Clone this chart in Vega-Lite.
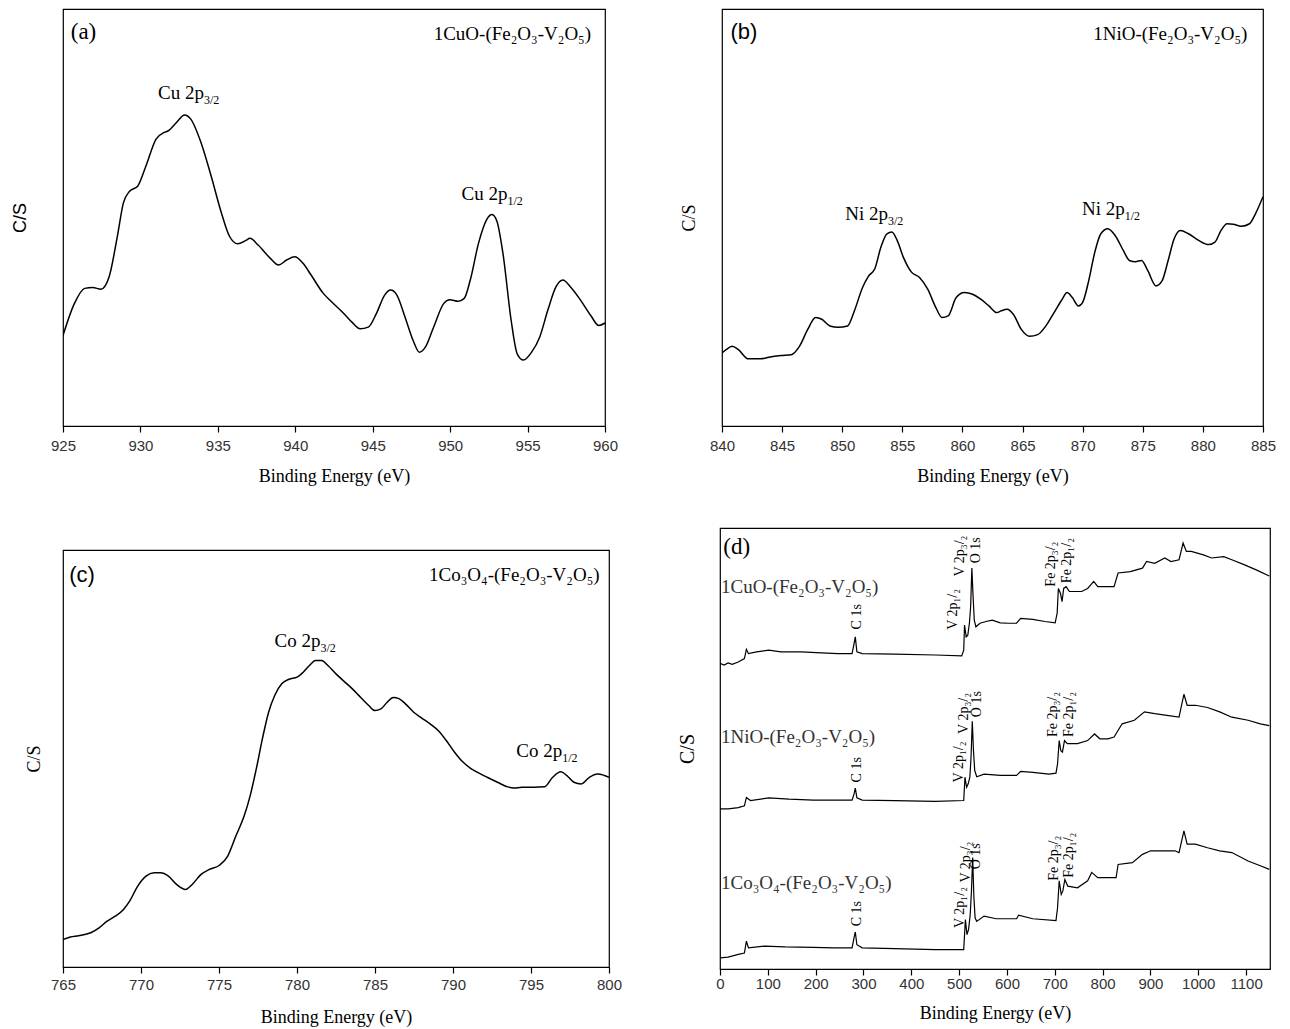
{
"$schema": "https://vega.github.io/schema/vega-lite/v6.json",
"background": "white",
"padding": {"left": 10, "top": 8, "right": 5, "bottom": 5},
"autosize": {"type": "pad"},
"datasets": {
"a": [{"x":925.00,"y":21.7},{"x":925.74,"y":29.4},{"x":926.40,"y":33.0},{"x":926.92,"y":33.2},{"x":927.45,"y":32.8},{"x":927.98,"y":35.8},{"x":928.51,"y":45.5},{"x":928.90,"y":53.5},{"x":929.30,"y":56.3},{"x":929.82,"y":57.5},{"x":930.35,"y":62.3},{"x":931.01,"y":68.8},{"x":931.54,"y":70.4},{"x":931.80,"y":70.8},{"x":932.33,"y":72.8},{"x":932.85,"y":74.6},{"x":933.25,"y":73.6},{"x":933.91,"y":68.0},{"x":934.57,"y":59.9},{"x":935.23,"y":51.1},{"x":935.75,"y":45.5},{"x":936.28,"y":43.7},{"x":936.81,"y":44.5},{"x":937.07,"y":45.0},{"x":937.60,"y":43.4},{"x":938.39,"y":40.2},{"x":938.92,"y":38.6},{"x":939.44,"y":39.8},{"x":939.97,"y":40.6},{"x":940.50,"y":39.0},{"x":941.02,"y":36.2},{"x":941.81,"y":31.8},{"x":942.34,"y":29.8},{"x":943.13,"y":27.0},{"x":943.66,"y":24.9},{"x":944.19,"y":23.3},{"x":944.71,"y":23.7},{"x":945.24,"y":27.0},{"x":945.77,"y":31.4},{"x":946.16,"y":32.6},{"x":946.56,"y":31.4},{"x":947.09,"y":26.1},{"x":947.61,"y":20.5},{"x":948.01,"y":17.7},{"x":948.40,"y":18.9},{"x":948.93,"y":23.7},{"x":949.59,"y":29.4},{"x":949.98,"y":30.3},{"x":950.51,"y":29.9},{"x":950.91,"y":30.6},{"x":951.30,"y":35.0},{"x":951.83,"y":43.8},{"x":952.36,"y":49.5},{"x":952.70,"y":50.7},{"x":953.02,"y":49.1},{"x":953.41,"y":41.4},{"x":953.94,"y":25.3},{"x":954.33,"y":17.3},{"x":954.73,"y":15.8},{"x":955.26,"y":17.7},{"x":955.78,"y":21.3},{"x":956.31,"y":27.8},{"x":956.84,"y":33.4},{"x":957.28,"y":35.0},{"x":957.76,"y":33.4},{"x":958.42,"y":30.2},{"x":959.08,"y":26.5},{"x":959.60,"y":24.1},{"x":960.00,"y":24.7}],
"b": [{"x":840.00,"y":17.5},{"x":840.34,"y":18.3},{"x":840.85,"y":19.1},{"x":841.36,"y":18.3},{"x":842.20,"y":16.1},{"x":843.22,"y":16.1},{"x":843.90,"y":16.5},{"x":844.91,"y":16.9},{"x":845.76,"y":17.1},{"x":846.44,"y":19.1},{"x":847.12,"y":23.1},{"x":847.79,"y":26.0},{"x":848.30,"y":25.6},{"x":848.98,"y":24.0},{"x":849.66,"y":23.7},{"x":850.44,"y":24.0},{"x":851.01,"y":27.6},{"x":851.69,"y":33.2},{"x":852.20,"y":36.0},{"x":852.71,"y":37.7},{"x":853.22,"y":42.9},{"x":853.72,"y":46.1},{"x":854.13,"y":46.5},{"x":854.57,"y":44.5},{"x":855.08,"y":40.5},{"x":855.76,"y":36.9},{"x":856.43,"y":35.6},{"x":857.11,"y":32.8},{"x":857.79,"y":28.4},{"x":858.30,"y":26.0},{"x":858.81,"y":26.4},{"x":859.48,"y":30.8},{"x":860.16,"y":32.0},{"x":860.84,"y":31.6},{"x":861.52,"y":30.4},{"x":862.20,"y":28.8},{"x":862.87,"y":27.2},{"x":863.21,"y":27.6},{"x":863.72,"y":28.0},{"x":864.23,"y":26.8},{"x":864.91,"y":23.1},{"x":865.58,"y":21.5},{"x":866.26,"y":21.9},{"x":866.94,"y":24.0},{"x":867.62,"y":27.2},{"x":868.30,"y":30.4},{"x":868.70,"y":32.0},{"x":869.14,"y":30.8},{"x":869.65,"y":28.8},{"x":869.99,"y":29.6},{"x":870.50,"y":34.8},{"x":871.01,"y":41.7},{"x":871.51,"y":46.1},{"x":872.09,"y":47.3},{"x":872.70,"y":45.7},{"x":873.38,"y":42.1},{"x":873.89,"y":39.7},{"x":874.39,"y":39.4},{"x":874.90,"y":39.7},{"x":875.41,"y":37.3},{"x":876.09,"y":33.6},{"x":876.60,"y":34.8},{"x":877.11,"y":39.7},{"x":877.61,"y":44.9},{"x":878.12,"y":46.9},{"x":878.80,"y":46.1},{"x":879.65,"y":44.5},{"x":880.49,"y":43.5},{"x":881.00,"y":44.1},{"x":881.51,"y":46.9},{"x":882.01,"y":48.5},{"x":882.52,"y":48.4},{"x":883.20,"y":47.9},{"x":883.88,"y":48.5},{"x":884.39,"y":51.0},{"x":885.00,"y":55.0}],
"c": [{"x":765.00,"y":6.6},{"x":765.47,"y":7.2},{"x":766.00,"y":7.5},{"x":766.78,"y":8.2},{"x":767.31,"y":9.4},{"x":767.83,"y":11.0},{"x":768.35,"y":12.2},{"x":768.88,"y":13.8},{"x":769.27,"y":15.8},{"x":769.79,"y":19.4},{"x":770.32,"y":21.8},{"x":770.84,"y":22.6},{"x":771.24,"y":22.6},{"x":771.76,"y":21.8},{"x":772.28,"y":19.8},{"x":772.86,"y":18.6},{"x":773.28,"y":19.8},{"x":773.85,"y":22.2},{"x":774.38,"y":23.4},{"x":775.03,"y":24.4},{"x":775.56,"y":26.6},{"x":776.08,"y":31.4},{"x":776.61,"y":36.2},{"x":777.00,"y":41.1},{"x":777.39,"y":47.5},{"x":777.78,"y":54.7},{"x":778.18,"y":61.1},{"x":778.57,"y":65.1},{"x":779.02,"y":67.9},{"x":779.49,"y":69.0},{"x":780.01,"y":69.5},{"x":780.40,"y":70.7},{"x":780.80,"y":72.3},{"x":781.19,"y":73.5},{"x":781.58,"y":73.5},{"x":781.98,"y":72.3},{"x":782.50,"y":70.3},{"x":783.02,"y":68.5},{"x":783.55,"y":66.7},{"x":784.07,"y":64.7},{"x":784.60,"y":62.7},{"x":784.99,"y":61.5},{"x":785.38,"y":61.9},{"x":785.78,"y":63.5},{"x":786.17,"y":64.6},{"x":786.56,"y":64.3},{"x":786.95,"y":63.1},{"x":787.48,"y":61.1},{"x":788.00,"y":59.7},{"x":788.53,"y":58.3},{"x":789.05,"y":56.7},{"x":789.57,"y":54.3},{"x":790.10,"y":51.5},{"x":790.62,"y":49.2},{"x":791.15,"y":47.6},{"x":791.67,"y":46.5},{"x":792.19,"y":45.5},{"x":792.85,"y":44.3},{"x":793.50,"y":43.2},{"x":793.90,"y":42.9},{"x":794.42,"y":43.1},{"x":795.21,"y":43.1},{"x":795.86,"y":43.2},{"x":796.39,"y":45.5},{"x":796.91,"y":46.8},{"x":797.30,"y":45.9},{"x":797.75,"y":44.3},{"x":798.22,"y":43.9},{"x":798.74,"y":45.5},{"x":799.27,"y":46.3},{"x":799.66,"y":46.0},{"x":800.00,"y":45.5}],
"d": [
{"s":"CuO","x":0,"y":69.3},{"s":"CuO","x":8.5,"y":68.9},{"s":"CuO","x":17.0,"y":69.4},{"s":"CuO","x":25.5,"y":69.1},{"s":"CuO","x":38.2,"y":69.6},{"s":"CuO","x":51.0,"y":70.4},{"s":"CuO","x":55.2,"y":72.5},{"s":"CuO","x":59.5,"y":71.5},{"s":"CuO","x":76.4,"y":71.9},{"s":"CuO","x":101.9,"y":72.3},{"s":"CuO","x":127.4,"y":71.9},{"s":"CuO","x":169.9,"y":71.9},{"s":"CuO","x":212.4,"y":71.7},{"s":"CuO","x":246.3,"y":71.5},{"s":"CuO","x":276.1,"y":71.5},{"s":"CuO","x":280.3,"y":73.8},{"s":"CuO","x":282.9,"y":75.3},{"s":"CuO","x":286.2,"y":71.9},{"s":"CuO","x":297.3,"y":71.5},{"s":"CuO","x":365.2,"y":71.4},{"s":"CuO","x":450.2,"y":71.2},{"s":"CuO","x":505.4,"y":71.0},{"s":"CuO","x":509.6,"y":72.3},{"s":"CuO","x":511.3,"y":78.0},{"s":"CuO","x":514.7,"y":75.3},{"s":"CuO","x":518.1,"y":75.7},{"s":"CuO","x":521.5,"y":78.4},{"s":"CuO","x":524.1,"y":82.2},{"s":"CuO","x":526.6,"y":90.9},{"s":"CuO","x":529.2,"y":84.4},{"s":"CuO","x":531.7,"y":79.1},{"s":"CuO","x":535.1,"y":77.6},{"s":"CuO","x":543.6,"y":78.4},{"s":"CuO","x":556.3,"y":78.8},{"s":"CuO","x":569.1,"y":79.1},{"s":"CuO","x":586.1,"y":78.5},{"s":"CuO","x":603.1,"y":78.4},{"s":"CuO","x":620.1,"y":78.4},{"s":"CuO","x":628.6,"y":79.5},{"s":"CuO","x":654.0,"y":79.3},{"s":"CuO","x":679.5,"y":78.8},{"s":"CuO","x":700.8,"y":78.5},{"s":"CuO","x":705.0,"y":80.7},{"s":"CuO","x":707.5,"y":86.3},{"s":"CuO","x":711.8,"y":85.2},{"s":"CuO","x":715.2,"y":83.3},{"s":"CuO","x":718.6,"y":86.3},{"s":"CuO","x":723.7,"y":86.7},{"s":"CuO","x":730.5,"y":85.6},{"s":"CuO","x":756.0,"y":85.6},{"s":"CuO","x":768.7,"y":86.3},{"s":"CuO","x":781.4,"y":87.9},{"s":"CuO","x":789.9,"y":86.7},{"s":"CuO","x":806.9,"y":86.7},{"s":"CuO","x":823.9,"y":86.7},{"s":"CuO","x":832.4,"y":89.8},{"s":"CuO","x":857.9,"y":90.1},{"s":"CuO","x":883.4,"y":90.9},{"s":"CuO","x":891.9,"y":92.4},{"s":"CuO","x":908.9,"y":92.0},{"s":"CuO","x":930.1,"y":93.2},{"s":"CuO","x":942.8,"y":92.4},{"s":"CuO","x":959.8,"y":92.8},{"s":"CuO","x":968.3,"y":96.6},{"s":"CuO","x":975.1,"y":94.7},{"s":"CuO","x":985.3,"y":94.7},{"s":"CuO","x":1010.8,"y":93.9},{"s":"CuO","x":1027.8,"y":93.2},{"s":"CuO","x":1053.3,"y":93.5},{"s":"CuO","x":1070.2,"y":92.8},{"s":"CuO","x":1095.7,"y":91.7},{"s":"CuO","x":1121.2,"y":90.5},{"s":"CuO","x":1148.4,"y":89.1},
{"s":"NiO","x":0,"y":36.3},{"s":"NiO","x":17.0,"y":36.3},{"s":"NiO","x":38.2,"y":36.6},{"s":"NiO","x":51.0,"y":37.0},{"s":"NiO","x":55.2,"y":38.9},{"s":"NiO","x":63.7,"y":38.2},{"s":"NiO","x":101.9,"y":38.8},{"s":"NiO","x":144.4,"y":38.5},{"s":"NiO","x":195.4,"y":38.3},{"s":"NiO","x":237.8,"y":38.3},{"s":"NiO","x":276.1,"y":38.3},{"s":"NiO","x":280.3,"y":39.7},{"s":"NiO","x":282.9,"y":41.0},{"s":"NiO","x":286.2,"y":38.8},{"s":"NiO","x":297.3,"y":38.3},{"s":"NiO","x":365.2,"y":38.2},{"s":"NiO","x":450.2,"y":38.0},{"s":"NiO","x":509.6,"y":38.2},{"s":"NiO","x":512.2,"y":43.5},{"s":"NiO","x":515.6,"y":41.2},{"s":"NiO","x":519.0,"y":42.0},{"s":"NiO","x":522.4,"y":43.5},{"s":"NiO","x":524.9,"y":48.0},{"s":"NiO","x":527.5,"y":56.2},{"s":"NiO","x":530.0,"y":49.5},{"s":"NiO","x":532.6,"y":45.0},{"s":"NiO","x":536.8,"y":43.6},{"s":"NiO","x":552.1,"y":44.2},{"s":"NiO","x":586.1,"y":43.9},{"s":"NiO","x":620.1,"y":43.9},{"s":"NiO","x":628.6,"y":44.8},{"s":"NiO","x":654.0,"y":44.6},{"s":"NiO","x":688.0,"y":44.2},{"s":"NiO","x":702.5,"y":44.4},{"s":"NiO","x":705.8,"y":46.5},{"s":"NiO","x":709.2,"y":51.8},{"s":"NiO","x":712.6,"y":49.5},{"s":"NiO","x":716.0,"y":49.2},{"s":"NiO","x":720.3,"y":51.8},{"s":"NiO","x":726.2,"y":51.1},{"s":"NiO","x":747.5,"y":51.1},{"s":"NiO","x":768.7,"y":51.8},{"s":"NiO","x":783.1,"y":53.3},{"s":"NiO","x":794.2,"y":52.2},{"s":"NiO","x":811.2,"y":52.2},{"s":"NiO","x":823.9,"y":52.6},{"s":"NiO","x":840.9,"y":55.6},{"s":"NiO","x":866.4,"y":56.4},{"s":"NiO","x":887.6,"y":58.3},{"s":"NiO","x":908.9,"y":57.9},{"s":"NiO","x":934.3,"y":57.5},{"s":"NiO","x":959.8,"y":57.1},{"s":"NiO","x":970.0,"y":62.3},{"s":"NiO","x":976.8,"y":59.8},{"s":"NiO","x":993.8,"y":59.8},{"s":"NiO","x":1019.3,"y":59.3},{"s":"NiO","x":1044.8,"y":58.3},{"s":"NiO","x":1070.2,"y":57.1},{"s":"NiO","x":1104.2,"y":56.4},{"s":"NiO","x":1129.7,"y":55.6},{"s":"NiO","x":1148.4,"y":55.2},
{"s":"Co","x":0,"y":2.5},{"s":"Co","x":17.0,"y":2.7},{"s":"Co","x":38.2,"y":3.3},{"s":"Co","x":51.0,"y":3.6},{"s":"Co","x":55.2,"y":6.3},{"s":"Co","x":59.5,"y":4.8},{"s":"Co","x":93.4,"y":5.2},{"s":"Co","x":135.9,"y":5.0},{"s":"Co","x":195.4,"y":4.9},{"s":"Co","x":237.8,"y":4.8},{"s":"Co","x":276.1,"y":4.8},{"s":"Co","x":280.3,"y":7.1},{"s":"Co","x":282.9,"y":8.4},{"s":"Co","x":286.2,"y":5.5},{"s":"Co","x":297.3,"y":4.8},{"s":"Co","x":365.2,"y":4.6},{"s":"Co","x":450.2,"y":4.4},{"s":"Co","x":509.6,"y":4.4},{"s":"Co","x":513.1,"y":11.2},{"s":"Co","x":516.4,"y":7.8},{"s":"Co","x":519.8,"y":9.0},{"s":"Co","x":523.2,"y":12.4},{"s":"Co","x":525.8,"y":17.7},{"s":"Co","x":528.3,"y":25.3},{"s":"Co","x":530.9,"y":16.2},{"s":"Co","x":533.4,"y":11.6},{"s":"Co","x":536.8,"y":10.8},{"s":"Co","x":552.1,"y":12.0},{"s":"Co","x":577.6,"y":11.4},{"s":"Co","x":620.1,"y":11.4},{"s":"Co","x":624.3,"y":12.2},{"s":"Co","x":654.0,"y":11.4},{"s":"Co","x":702.5,"y":11.0},{"s":"Co","x":705.8,"y":13.9},{"s":"Co","x":709.2,"y":20.0},{"s":"Co","x":713.5,"y":16.9},{"s":"Co","x":716.9,"y":17.7},{"s":"Co","x":721.1,"y":20.3},{"s":"Co","x":727.1,"y":18.8},{"s":"Co","x":747.5,"y":18.4},{"s":"Co","x":768.7,"y":20.0},{"s":"Co","x":777.2,"y":21.9},{"s":"Co","x":789.9,"y":20.7},{"s":"Co","x":806.9,"y":20.7},{"s":"Co","x":828.2,"y":20.7},{"s":"Co","x":832.4,"y":23.7},{"s":"Co","x":862.2,"y":24.1},{"s":"Co","x":883.4,"y":26.0},{"s":"Co","x":900.4,"y":26.8},{"s":"Co","x":925.8,"y":26.8},{"s":"Co","x":951.3,"y":26.8},{"s":"Co","x":959.8,"y":26.4},{"s":"Co","x":970.0,"y":31.3},{"s":"Co","x":976.8,"y":28.3},{"s":"Co","x":993.8,"y":28.3},{"s":"Co","x":1019.3,"y":27.5},{"s":"Co","x":1044.8,"y":26.8},{"s":"Co","x":1070.2,"y":26.4},{"s":"Co","x":1104.2,"y":24.5},{"s":"Co","x":1129.7,"y":23.4},{"s":"Co","x":1148.4,"y":22.6}],
"ann": [
{"p":"a","k":"tag","x":925.5,"y":94.4,"t":"(a)"},
{"p":"a","k":"form","x":959.1,"y":94.1,"t":"1CuO-(Fe₂O₃-V₂O₅)"},
{"p":"a","k":"main","x":934.1,"y":78.4,"t":"Cu 2p"},
{"p":"a","k":"sub","x":934.1,"y":78.4,"t":"3/2"},
{"p":"a","k":"main","x":953.7,"y":54.3,"t":"Cu 2p"},
{"p":"a","k":"sub","x":953.7,"y":54.3,"t":"1/2"},
{"p":"b","k":"tag","x":840.7,"y":94.4,"t":"(b)"},
{"p":"b","k":"form","x":883.7,"y":94.1,"t":"1NiO-(Fe₂O₃-V₂O₅)"},
{"p":"b","k":"main","x":853.8,"y":49.5,"t":"Ni 2p"},
{"p":"b","k":"sub","x":853.8,"y":49.5,"t":"3/2"},
{"p":"b","k":"main","x":873.5,"y":50.6,"t":"Ni 2p"},
{"p":"b","k":"sub","x":873.5,"y":50.6,"t":"1/2"},
{"p":"c","k":"tag","x":765.4,"y":94.0,"t":"(c)"},
{"p":"c","k":"form","x":799.4,"y":94.0,"t":"1Co₃O₄-(Fe₂O₃-V₂O₅)"},
{"p":"c","k":"main","x":781.5,"y":76.7,"t":"Co 2p"},
{"p":"c","k":"sub","x":781.5,"y":76.7,"t":"3/2"},
{"p":"c","k":"main","x":797.0,"y":50.3,"t":"Co 2p"},
{"p":"c","k":"sub","x":797.0,"y":50.3,"t":"1/2"},
{"p":"d","k":"tag","x":7,"y":95.8,"t":"(d)"},
{"p":"d","k":"form","x":2,"y":86.7,"t":"1CuO-(Fe₂O₃-V₂O₅)"},
{"p":"d","k":"form","x":2,"y":52.6,"t":"1NiO-(Fe₂O₃-V₂O₅)"},
{"p":"d","k":"form","x":2,"y":19.6,"t":"1Co₃O₄-(Fe₂O₃-V₂O₅)"},
{"p":"d","k":"rot","x":287,"y":77.0,"t":"C 1s"},
{"p":"d","k":"rot","x":488,"y":76.9,"t":"V 2p₁/₂"},
{"p":"d","k":"rot","x":501,"y":89.0,"t":"V 2p₃/₂"},
{"p":"d","k":"rot","x":535,"y":92.0,"t":"O 1s"},
{"p":"d","k":"rot","x":692,"y":86.7,"t":"Fe 2p₃/₂"},
{"p":"d","k":"rot","x":726,"y":87.5,"t":"Fe 2p₁/₂"},
{"p":"d","k":"rot","x":287,"y":42.3,"t":"C 1s"},
{"p":"d","k":"rot","x":499,"y":42.3,"t":"V 2p₁/₂"},
{"p":"d","k":"rot","x":510,"y":53.3,"t":"V 2p₃/₂"},
{"p":"d","k":"rot","x":538,"y":57.1,"t":"O 1s"},
{"p":"d","k":"rot","x":697,"y":52.6,"t":"Fe 2p₃/₂"},
{"p":"d","k":"rot","x":730,"y":52.6,"t":"Fe 2p₁/₂"},
{"p":"d","k":"rot","x":287,"y":9.7,"t":"C 1s"},
{"p":"d","k":"rot","x":501,"y":9.3,"t":"V 2p₁/₂"},
{"p":"d","k":"rot","x":514,"y":19.6,"t":"V 2p₃/₂"},
{"p":"d","k":"rot","x":535,"y":22.6,"t":"O 1s"},
{"p":"d","k":"rot","x":699,"y":20.0,"t":"Fe 2p₃/₂"},
{"p":"d","k":"rot","x":730,"y":20.7,"t":"Fe 2p₁/₂"}
]
},
"spacing": 41,
"vconcat": [
{
"hconcat": [
{
"width": 542, "height": 417,
"layer": [
{"data": {"name": "a"}, "mark": {"type": "line", "color": "black", "strokeWidth": 1.5, "interpolate": "monotone", "clip": true},
 "encoding": {
  "x": {"field": "x", "type": "quantitative", "scale": {"domain": [925, 960], "nice": false, "zero": false},
        "axis": {"title": "Binding Energy (eV)", "values": [925,927.5,930,932.5,935,937.5,940,942.5,945,947.5,950,952.5,955,957.5,960], "labelExpr": "datum.value % 5 == 0 ? datum.label : ''"}},
  "y": {"field": "y", "type": "quantitative", "scale": {"domain": [0, 100], "nice": false}, "axis": {"title": "C/S", "titleFont": "Liberation Sans", "titlePadding": 34}}}},
{"data": {"name": "ann"}, "transform": [{"filter": "datum.p == 'a' && datum.k == 'tag'"}], "mark": {"type": "text", "align": "left", "baseline": "middle", "fontSize": 23},
 "encoding": {"x": {"field": "x", "type": "quantitative"}, "y": {"field": "y", "type": "quantitative"}, "text": {"field": "t"}}},
{"data": {"name": "ann"}, "transform": [{"filter": "datum.p == 'a' && datum.k == 'form'"}], "mark": {"type": "text", "align": "right", "baseline": "middle", "fontSize": 19},
 "encoding": {"x": {"field": "x", "type": "quantitative"}, "y": {"field": "y", "type": "quantitative"}, "text": {"field": "t"}}},
{"data": {"name": "ann"}, "transform": [{"filter": "datum.p == 'a' && datum.k == 'main'"}], "mark": {"type": "text", "align": "right", "baseline": "alphabetic", "fontSize": 19},
 "encoding": {"x": {"field": "x", "type": "quantitative"}, "y": {"field": "y", "type": "quantitative"}, "text": {"field": "t"}}},
{"data": {"name": "ann"}, "transform": [{"filter": "datum.p == 'a' && datum.k == 'sub'"}], "mark": {"type": "text", "align": "left", "baseline": "alphabetic", "fontSize": 12, "dy": 5},
 "encoding": {"x": {"field": "x", "type": "quantitative"}, "y": {"field": "y", "type": "quantitative"}, "text": {"field": "t"}}}
]
},
{
"width": 541, "height": 417,
"layer": [
{"data": {"name": "b"}, "mark": {"type": "line", "color": "black", "strokeWidth": 1.5, "interpolate": "monotone", "clip": true},
 "encoding": {
  "x": {"field": "x", "type": "quantitative", "scale": {"domain": [840, 885], "nice": false, "zero": false},
        "axis": {"title": "Binding Energy (eV)", "values": [840,842.5,845,847.5,850,852.5,855,857.5,860,862.5,865,867.5,870,872.5,875,877.5,880,882.5,885], "labelExpr": "datum.value % 5 == 0 ? datum.label : ''"}},
  "y": {"field": "y", "type": "quantitative", "scale": {"domain": [0, 100], "nice": false}, "axis": {"title": "C/S", "titlePadding": 24}}}},
{"data": {"name": "ann"}, "transform": [{"filter": "datum.p == 'b' && datum.k == 'tag'"}], "mark": {"type": "text", "align": "left", "baseline": "middle", "fontSize": 22, "font": "Liberation Sans"},
 "encoding": {"x": {"field": "x", "type": "quantitative"}, "y": {"field": "y", "type": "quantitative"}, "text": {"field": "t"}}},
{"data": {"name": "ann"}, "transform": [{"filter": "datum.p == 'b' && datum.k == 'form'"}], "mark": {"type": "text", "align": "right", "baseline": "middle", "fontSize": 19},
 "encoding": {"x": {"field": "x", "type": "quantitative"}, "y": {"field": "y", "type": "quantitative"}, "text": {"field": "t"}}},
{"data": {"name": "ann"}, "transform": [{"filter": "datum.p == 'b' && datum.k == 'main'"}], "mark": {"type": "text", "align": "right", "baseline": "alphabetic", "fontSize": 19},
 "encoding": {"x": {"field": "x", "type": "quantitative"}, "y": {"field": "y", "type": "quantitative"}, "text": {"field": "t"}}},
{"data": {"name": "ann"}, "transform": [{"filter": "datum.p == 'b' && datum.k == 'sub'"}], "mark": {"type": "text", "align": "left", "baseline": "alphabetic", "fontSize": 12, "dy": 5},
 "encoding": {"x": {"field": "x", "type": "quantitative"}, "y": {"field": "y", "type": "quantitative"}, "text": {"field": "t"}}}
]
}
],
"spacing": 60
},
{
"hconcat": [
{
"vconcat": [
{"width": 10, "height": 21, "view": {"stroke": null}, "data": {"values": [{"t": ""}]}, "mark": {"type": "text"}, "encoding": {"text": {"field": "t"}}},
{
"width": 546, "height": 417,
"layer": [
{"data": {"name": "c"}, "mark": {"type": "line", "color": "black", "strokeWidth": 1.5, "interpolate": "monotone", "clip": true},
 "encoding": {
  "x": {"field": "x", "type": "quantitative", "scale": {"domain": [765, 800], "nice": false, "zero": false},
        "axis": {"title": "Binding Energy (eV)", "labelPadding": 4, "titlePadding": 16, "values": [765,767.5,770,772.5,775,777.5,780,782.5,785,787.5,790,792.5,795,797.5,800], "labelExpr": "datum.value % 5 == 0 ? datum.label : ''"}},
  "y": {"field": "y", "type": "quantitative", "scale": {"domain": [0, 100], "nice": false}, "axis": {"title": "C/S", "titlePadding": 20}}}},
{"data": {"name": "ann"}, "transform": [{"filter": "datum.p == 'c' && datum.k == 'tag'"}], "mark": {"type": "text", "align": "left", "baseline": "middle", "fontSize": 22, "font": "Liberation Sans"},
 "encoding": {"x": {"field": "x", "type": "quantitative"}, "y": {"field": "y", "type": "quantitative"}, "text": {"field": "t"}}},
{"data": {"name": "ann"}, "transform": [{"filter": "datum.p == 'c' && datum.k == 'form'"}], "mark": {"type": "text", "align": "right", "baseline": "middle", "fontSize": 19},
 "encoding": {"x": {"field": "x", "type": "quantitative"}, "y": {"field": "y", "type": "quantitative"}, "text": {"field": "t"}}},
{"data": {"name": "ann"}, "transform": [{"filter": "datum.p == 'c' && datum.k == 'main'"}], "mark": {"type": "text", "align": "right", "baseline": "alphabetic", "fontSize": 19},
 "encoding": {"x": {"field": "x", "type": "quantitative"}, "y": {"field": "y", "type": "quantitative"}, "text": {"field": "t"}}},
{"data": {"name": "ann"}, "transform": [{"filter": "datum.p == 'c' && datum.k == 'sub'"}], "mark": {"type": "text", "align": "left", "baseline": "alphabetic", "fontSize": 12, "dy": 5},
 "encoding": {"x": {"field": "x", "type": "quantitative"}, "y": {"field": "y", "type": "quantitative"}, "text": {"field": "t"}}}
]
}
],
"spacing": 0
},
{
"width": 550, "height": 441,
"layer": [
{"data": {"name": "d"}, "mark": {"type": "line", "color": "black", "strokeWidth": 1.2, "clip": true},
 "encoding": {
  "x": {"field": "x", "type": "quantitative", "scale": {"domain": [0, 1150], "nice": false, "zero": false},
        "axis": {"title": "Binding Energy (eV)", "format": "d", "labelPadding": 1, "titlePadding": 13, "values": [0,50,100,150,200,250,300,350,400,450,500,550,600,650,700,750,800,850,900,950,1000,1050,1100,1150], "labelExpr": "datum.value % 100 == 0 && datum.value < 1150 ? datum.label : ''"}},
  "y": {"field": "y", "type": "quantitative", "scale": {"domain": [0, 100], "nice": false}, "axis": {"title": "C/S", "titlePadding": 23, "titleFontSize": 20}},
  "detail": {"field": "s"}}},
{"data": {"name": "ann"}, "transform": [{"filter": "datum.p == 'd' && datum.k == 'tag'"}], "mark": {"type": "text", "align": "left", "baseline": "middle", "fontSize": 23},
 "encoding": {"x": {"field": "x", "type": "quantitative"}, "y": {"field": "y", "type": "quantitative"}, "text": {"field": "t"}}},
{"data": {"name": "ann"}, "transform": [{"filter": "datum.p == 'd' && datum.k == 'form'"}], "mark": {"type": "text", "align": "left", "baseline": "middle", "fontSize": 19, "color": "#333"},
 "encoding": {"x": {"field": "x", "type": "quantitative"}, "y": {"field": "y", "type": "quantitative"}, "text": {"field": "t"}}},
{"data": {"name": "ann"}, "transform": [{"filter": "datum.p == 'd' && datum.k == 'rot'"}], "mark": {"type": "text", "align": "left", "baseline": "middle", "fontSize": 14, "angle": 270},
 "encoding": {"x": {"field": "x", "type": "quantitative"}, "y": {"field": "y", "type": "quantitative"}, "text": {"field": "t"}}}
]
}
],
"spacing": 53
}
],
"config": {
"view": {"stroke": "black", "strokeWidth": 1.2},
"text": {"font": "Liberation Serif", "color": "black"},
"axisX": {"tickSize": 6, "tickColor": "black", "tickWidth": 1.2, "domain": false, "grid": false, "labelFont": "Liberation Sans", "labelFontSize": 15, "labelColor": "#333", "labelPadding": 6, "labelFlush": false, "labelOverlap": false, "titleFont": "Liberation Serif", "titleFontSize": 18, "titleFontWeight": "normal", "titleColor": "black", "titlePadding": 14},
"axisY": {"ticks": false, "labels": false, "domain": false, "grid": false, "titleFont": "Liberation Serif", "titleFontSize": 18, "titleFontWeight": "normal", "titleColor": "black"}
}
}
